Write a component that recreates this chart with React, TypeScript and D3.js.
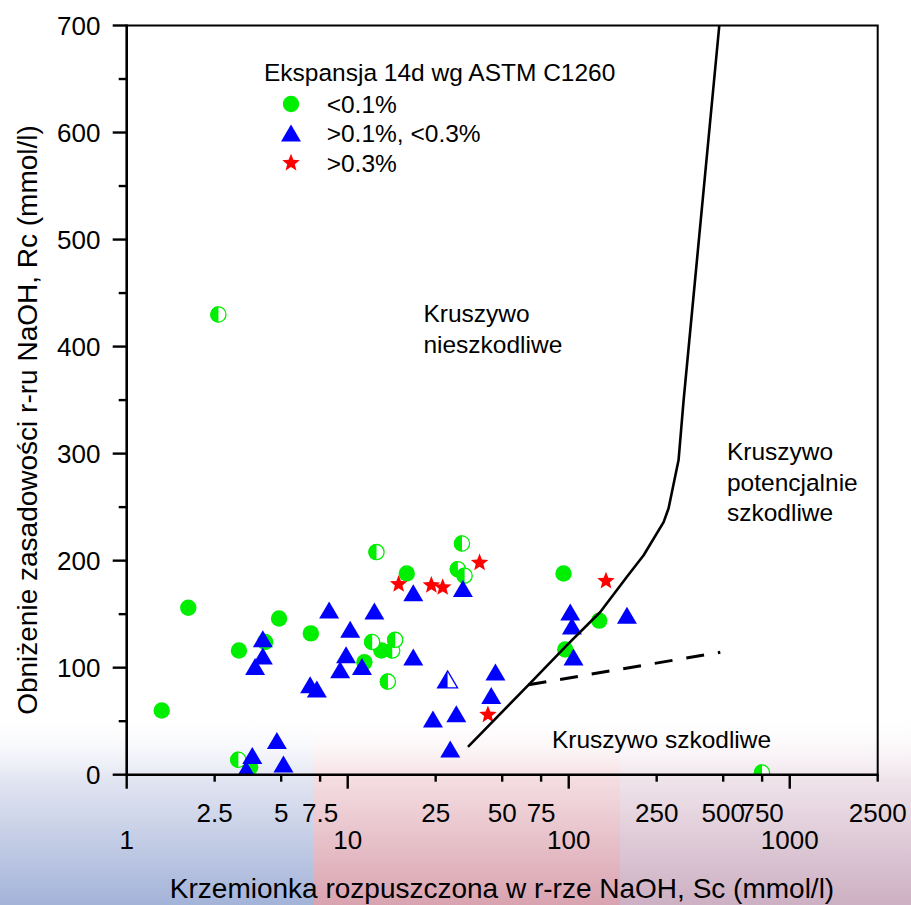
import React from 'react';
import * as d3 from 'd3';

const W = 911;
const H = 905;

// Data: [Sc (mmol/l), Rc (mmol/l)]
const lowFull: [number, number][] = [
  [1.44, 60], [1.9, 156], [3.22, 116], [4.23, 124], [4.89, 146], [6.81, 132],
  [11.9, 105], [14.2, 116], [18.5, 188], [94.7, 188], [96.4, 117], [137.4, 144], [3.62, 7],
];
const lowHalf: [number, number][] = [
  [2.6, 430], [3.2, 14], [12.9, 124], [13.5, 208], [15.2, 87], [15.9, 116], [16.4, 126],
  [31.5, 192], [32.9, 216], [33.8, 186], [749, 2],
];
const midFull: [number, number][] = [
  [3.47, 5], [3.7, 18], [3.81, 101], [4.13, 111], [4.13, 127], [4.78, 32], [5.12, 10],
  [6.76, 84], [7.25, 80], [8.24, 154], [9.24, 98], [9.83, 112], [10.26, 136], [11.6, 101],
  [13.2, 153], [19.8, 170], [19.8, 110], [24.3, 52], [29.1, 24], [31.0, 57], [33.2, 174],
  [44.6, 74], [46.6, 96], [101.6, 152], [103.4, 139], [105.1, 110], [183.4, 149],
];
const midHalf: [number, number][] = [[28.3, 89]];
const highExp: [number, number][] = [
  [17.0, 178], [23.9, 177], [26.9, 175], [39.5, 198], [43.1, 56], [147.4, 181],
];

// Boundary curves
const boundaryX = [35.0, 65.8, 98.2, 138.9, 183.4, 218.2, 268.7, 283, 314, 331, 480];
const boundaryY = [26, 84, 121, 152, 185, 205, 236, 249, 294, 350, 700];
const dashX = [65.8, 485];
const dashY = [84, 114.4];

// Axis ticks
const xMajor = [1, 10, 100, 1000];
const xMinor = [2.5, 5, 7.5, 25, 50, 75, 250, 500, 750, 2500];
const xMinorLabels = ['2.5', '5', '7.5', '25', '50', '75', '250', '500', '750', '2500'];
const xMajorLabels = ['1', '10', '100', '1000'];
const yMajor = [0, 100, 200, 300, 400, 500, 600, 700];
const yMinor = [50, 150, 250, 350, 450, 550, 650];

const legendTitle = 'Ekspansja 14d wg ASTM C1260';
const legendLabels = ['<0.1%', '>0.1%, <0.3%', '>0.3%'];

// Region annotations: [x, y, lines]
const regionLabels: { x: number; y: number; lines: string[] }[] = [
  { x: 22.0, y: 431, lines: ['Kruszywo', 'nieszkodliwe'] },
  { x: 520, y: 302, lines: ['Kruszywo', 'potencjalnie', 'szkodliwe'] },
  { x: 83.9, y: 33, lines: ['Kruszywo szkodliwe'] },
];

const FONT = "Arial, 'Liberation Sans', sans-serif";
const GREEN = '#00ee00';
const BLUE = '#0000ff';
const RED = '#ff0000';

const x = d3.scaleLog().domain([1, 2500]).range([126.7, 877.7]);
const y = d3.scaleLinear().domain([0, 700]).range([774.7, 25.5]);

const CR = 8.2;
const TW = 10;
const TT = 8.5;
const TB = 8.5;

function starPath(R: number, r: number) {
  const pts: [number, number][] = [];
  for (let i = 0; i < 10; i++) {
    const a = -Math.PI / 2 + (i * Math.PI) / 5;
    const rad = i % 2 === 0 ? R : r;
    pts.push([Math.cos(a) * rad, Math.sin(a) * rad]);
  }
  return 'M' + pts.map((p) => p.join(',')).join('L') + 'Z';
}
const STAR = starPath(9.2, 4.0);
const TRI = `M0,${-TT}L${TW},${TB}L${-TW},${TB}Z`;
const TRI_LEFT = `M0,${-TT}L0,${TB}L${-TW},${TB}Z`;
const SEMI_LEFT = `M0,${-CR}A${CR},${CR} 0 0 0 0,${CR}Z`;

const Circle = ({ cx, cy }: { cx: number; cy: number }) => (
  <circle cx={cx} cy={cy} r={CR} fill={GREEN} />
);
const HalfCircle = ({ cx, cy }: { cx: number; cy: number }) => (
  <g transform={`translate(${cx},${cy})`}>
    <circle r={CR - 0.6} fill="#fff" stroke={GREEN} strokeWidth={1.3} />
    <path d={SEMI_LEFT} fill={GREEN} />
  </g>
);
const Tri = ({ cx, cy }: { cx: number; cy: number }) => (
  <path transform={`translate(${cx},${cy})`} d={TRI} fill={BLUE} />
);
const HalfTri = ({ cx, cy }: { cx: number; cy: number }) => (
  <g transform={`translate(${cx},${cy})`}>
    <path d={TRI} fill="#fff" stroke={BLUE} strokeWidth={1.3} strokeLinejoin="miter" />
    <path d={TRI_LEFT} fill={BLUE} />
  </g>
);
const Star = ({ cx, cy }: { cx: number; cy: number }) => (
  <path transform={`translate(${cx},${cy})`} d={STAR} fill={RED} />
);

export default function App() {
  const line = d3
    .line<number>()
    .x((_, i) => x(boundaryX[i]))
    .y((d) => y(d));
  const boundaryPath = line(boundaryY) || '';
  const dashPath =
    d3
      .line<number>()
      .x((_, i) => x(dashX[i]))
      .y((d) => y(d))(dashY) || '';

  const x0 = x.range()[0];
  const x1 = x.range()[1];
  const yTop = y.range()[1];
  const yBot = y.range()[0];

  return (
    <svg
      width={W}
      height={H}
      viewBox={`0 0 ${W} ${H}`}
      style={{ position: 'absolute', left: 0, top: 0, background: '#fff' }}
      fontFamily={FONT}
    >
      <defs>
        <linearGradient id="gBlue" x1="0" y1="0" x2="0" y2="1">
          <stop offset="0" stopColor="#ffffff" stopOpacity={0} />
          <stop offset="0.35" stopColor="#e2e5f2" />
          <stop offset="1" stopColor="#a3b3d8" />
        </linearGradient>
        <linearGradient id="gPink" x1="0" y1="0" x2="0" y2="1">
          <stop offset="0" stopColor="#ffffff" stopOpacity={0} />
          <stop offset="0.35" stopColor="#f4dde1" />
          <stop offset="1" stopColor="#d9a3b0" />
        </linearGradient>
        <linearGradient id="gMauve" x1="0" y1="0" x2="0" y2="1">
          <stop offset="0" stopColor="#ffffff" stopOpacity={0} />
          <stop offset="0.35" stopColor="#efe3ea" />
          <stop offset="1" stopColor="#cdb0c3" />
        </linearGradient>
        <clipPath id="plotClip">
          <rect x={x0} y={yTop} width={x1 - x0} height={yBot - yTop} />
        </clipPath>
      </defs>

      {/* background strip */}
      <rect x={0} y={712} width={313} height={H - 712} fill="url(#gBlue)" />
      <rect x={313} y={712} width={307} height={H - 712} fill="url(#gPink)" />
      <rect x={620} y={712} width={W - 620} height={H - 712} fill="url(#gMauve)" />

      {/* markers */}
      <g clipPath="url(#plotClip)">
        {lowFull.map((d, i) => (
          <Circle key={'lf' + i} cx={x(d[0])} cy={y(d[1])} />
        ))}
        {lowHalf.map((d, i) => (
          <HalfCircle key={'lh' + i} cx={x(d[0])} cy={y(d[1])} />
        ))}
        {midFull.map((d, i) => (
          <Tri key={'mf' + i} cx={x(d[0])} cy={y(d[1])} />
        ))}
        {midHalf.map((d, i) => (
          <HalfTri key={'mh' + i} cx={x(d[0])} cy={y(d[1])} />
        ))}
        {highExp.map((d, i) => (
          <Star key={'h' + i} cx={x(d[0])} cy={y(d[1])} />
        ))}
        <path d={boundaryPath} fill="none" stroke="#000" strokeWidth={2.6} strokeLinejoin="round" />
        <path d={dashPath} fill="none" stroke="#000" strokeWidth={3} strokeDasharray="18,14" />
      </g>

      {/* frame */}
      <path
        d={`M${x0},${yTop}H${x1}V${yBot}`}
        fill="none"
        stroke="#000"
        strokeWidth={2}
      />
      <line x1={x0} x2={x1 + 1} y1={yBot} y2={yBot} stroke="#000" strokeWidth={2.6} />
      <line x1={x0} x2={x0} y1={yTop - 1} y2={yBot + 1} stroke="#000" strokeWidth={2.6} />

      {/* x ticks */}
      {xMajor.map((v) => (
        <line key={'xM' + v} x1={x(v)} x2={x(v)} y1={yBot} y2={yBot + 14} stroke="#000" strokeWidth={2.4} />
      ))}
      {xMinor.map((v) => (
        <line key={'xm' + v} x1={x(v)} x2={x(v)} y1={yBot} y2={yBot + 7} stroke="#000" strokeWidth={2.4} />
      ))}
      {xMinor.map((v, i) => (
        <text key={'xml' + v} x={x(v)} y={813} dy="0.358em" textAnchor="middle" fontSize={26}>
          {xMinorLabels[i]}
        </text>
      ))}
      {xMajor.map((v, i) => (
        <text key={'xMl' + v} x={x(v)} y={840} dy="0.358em" textAnchor="middle" fontSize={26}>
          {xMajorLabels[i]}
        </text>
      ))}

      {/* y ticks */}
      {yMajor.map((v) => (
        <line key={'yM' + v} x1={x0 - 14} x2={x0} y1={y(v)} y2={y(v)} stroke="#000" strokeWidth={2.4} />
      ))}
      {yMinor.map((v) => (
        <line key={'ym' + v} x1={x0 - 8} x2={x0} y1={y(v)} y2={y(v)} stroke="#000" strokeWidth={2.4} />
      ))}
      {yMajor.map((v) => (
        <text key={'yl' + v} x={100.5} y={y(v)} dy="0.358em" textAnchor="end" fontSize={26}>
          {v}
        </text>
      ))}

      {/* axis titles */}
      <text x={502} y={898} textAnchor="middle" fontSize={28}>
        Krzemionka rozpuszczona w r-rze NaOH, Sc (mmol/l)
      </text>
      <text transform="translate(27,420) rotate(-90)" dy="0.358em" textAnchor="middle" fontSize={28}>
        Obniżenie zasadowości r-ru NaOH, Rc (mmol/l)
      </text>

      {/* legend */}
      <text x={264} y={72.7} dy="0.358em" fontSize={24.5}>
        {legendTitle}
      </text>
      <Circle cx={291} cy={104} />
      <Tri cx={291} cy={133} />
      <Star cx={291} cy={163} />
      {legendLabels.map((t, i) => (
        <text key={'lg' + i} x={326.7} y={104 + i * 29.5} dy="0.358em" fontSize={24.5}>
          {t}
        </text>
      ))}

      {/* region labels */}
      {regionLabels.map((r, i) => (
        <text key={'rl' + i} x={x(r.x)} y={y(r.y)} dy="0.358em" fontSize={24.5}>
          {r.lines.map((l, j) => (
            <tspan key={j} x={x(r.x)} dy={j === 0 ? '0.358em' : 30.5}>
              {l}
            </tspan>
          ))}
        </text>
      ))}
    </svg>
  );
}
